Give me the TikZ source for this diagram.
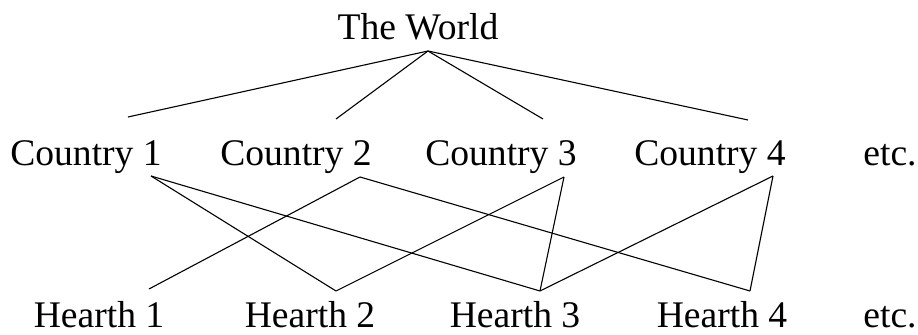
\documentclass[tikz,border=0pt]{standalone}
\usepackage{fontspec}
\setmainfont{Liberation Serif}
\usepackage{tikz}
\usetikzlibrary{positioning}

\begin{document}
\begin{tikzpicture}[
  x=0.5pt, y=-0.5pt,
  font=\fontsize{18.8}{22}\selectfont,
  place/.style={
    anchor=base,
    inner sep=0pt
  },
  link/.style={
    draw=black,
    line width=0.55pt
  }
]
\useasboundingbox (0,0) rectangle (918,335);

% Top node
\node[place] (world) at (418,40) {The World};

% Countries
\node[place] (c1) at (86,166) {Country 1};
\node[place] (c2) at (296,166) {Country 2};
\node[place] (c3) at (501,166) {Country 3};
\node[place] (c4) at (710,166) {Country 4};
\node[place] (cetc) at (890,166) {etc.};

% Hearths
\node[place] (h1) at (99,328) {Hearth 1};
\node[place] (h2) at (310,328) {Hearth 2};
\node[place] (h3) at (515,328) {Hearth 3};
\node[place] (h4) at (722,328) {Hearth 4};
\node[place] (hetc) at (890,328) {etc.};

% Attachment points
\coordinate (apex) at (428,51);
\coordinate (c1t) at (128,117);
\coordinate (c2t) at (336,119);
\coordinate (c3t) at (543,119);
\coordinate (c4t) at (748,120);
\coordinate (c1b) at (151,176);
\coordinate (c2b) at (360,177);
\coordinate (c3b) at (564,177);
\coordinate (c4b) at (773,176);
\coordinate (h1t) at (149,289);
\coordinate (h2t) at (336,291);
\coordinate (h3t) at (540,291);
\coordinate (h4t) at (750,291);

% World to countries
\draw[link] (apex) -- (c1t);
\draw[link] (apex) -- (c2t);
\draw[link] (apex) -- (c3t);
\draw[link] (apex) -- (c4t);

% Countries to hearths
\draw[link] (c1b) -- (h2t);
\draw[link] (c1b) -- (h3t);
\draw[link] (c2b) -- (h1t);
\draw[link] (c2b) -- (h4t);
\draw[link] (c3b) -- (h2t);
\draw[link] (c3b) -- (h3t);
\draw[link] (c4b) -- (h3t);
\draw[link] (c4b) -- (h4t);

\end{tikzpicture}
\end{document}
